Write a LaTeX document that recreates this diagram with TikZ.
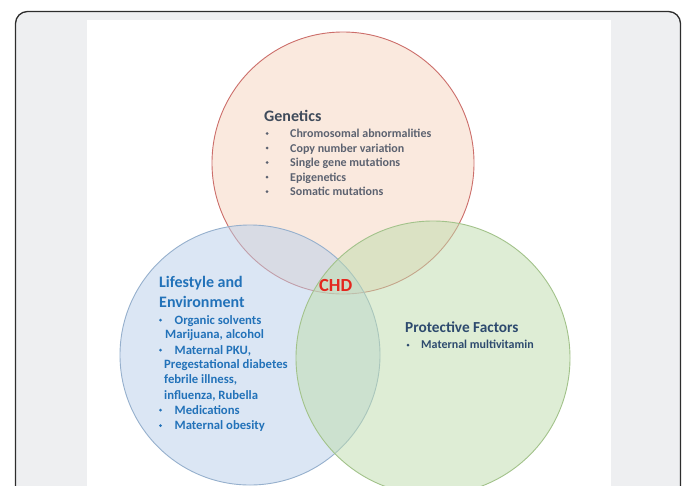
\documentclass[tikz,border=0pt]{standalone}
\usepackage{fontspec}
\setmainfont{Carlito}
\usepackage{tikz}
\usetikzlibrary{positioning}
\definecolor{framegray}{RGB}{238, 239, 241}
\definecolor{frameline}{RGB}{45, 45, 45}
\definecolor{genfill}{RGB}{247, 213, 190}
\definecolor{genline}{RGB}{204, 110, 106}
\definecolor{lifefill}{RGB}{184, 207, 234}
\definecolor{lifeline}{RGB}{150, 176, 205}
\definecolor{protfill}{RGB}{190, 221, 172}
\definecolor{protline}{RGB}{162, 194, 138}
\definecolor{genhead}{RGB}{63, 75, 91}
\definecolor{gentext}{RGB}{92, 98, 112}
\definecolor{lifeblue}{RGB}{34, 114, 185}
\definecolor{prothead}{RGB}{45, 74, 110}
\definecolor{chdred}{RGB}{228, 38, 30}

\tikzset{
  heading/.style={font=\fontsize{16}{19}\selectfont\bfseries, anchor=base west, inner sep=0pt},
  item/.style={font=\fontsize{12}{14}\selectfont\bfseries, anchor=base west, inner sep=0pt},
  lifeitem/.style={item, font=\fontsize{12.7}{15}\selectfont\bfseries, text=lifeblue},
  bulletdot/.style={circle, inner sep=0pt, minimum size=3pt},
  venn/.style={fill opacity=0.5, line width=0.9pt}
}

\begin{document}
\begin{tikzpicture}[x=1pt, y=-1pt, line cap=round, line join=round]
	\useasboundingbox (0,0) rectangle (684,485);
	\clip (0,0) rectangle (684,485);

	% -- Frame and panel --
	\draw[fill=framegray, draw=frameline, line width=1.3pt, rounded corners=12pt] (15.5,11.5) rectangle (680.5,520);
	\fill[white] (87,20) rectangle (611,520);

	% -- The three circles --
	\draw[venn, fill=genfill, draw=genline] (343,163) circle (131);
	\draw[venn, fill=lifefill, draw=lifeline] (250,355) circle (130);
	\draw[venn, fill=protfill, draw=protline] (433,358) circle (137);

	% -- Genetics --
	\node[heading, text=genhead] (gen) at (264,121.5) {Genetics};
	\node[bulletdot, fill=gentext] (genb1) at (267,133.5) {};
	\node[item, text=gentext] (gen1) at (290,137.5) {Chromosomal abnormalities};
	\node[bulletdot, fill=gentext] (genb2) at (267,148) {};
	\node[item, text=gentext] (gen2) at (290,152) {Copy number variation};
	\node[bulletdot, fill=gentext] (genb3) at (267,162.5) {};
	\node[item, text=gentext] (gen3) at (290,166.5) {Single gene mutations};
	\node[bulletdot, fill=gentext] (genb4) at (267,177) {};
	\node[item, text=gentext] (gen4) at (290,181) {Epigenetics};
	\node[bulletdot, fill=gentext] (genb5) at (267,191.5) {};
	\node[item, text=gentext] (gen5) at (290,195.5) {Somatic mutations};

	% -- Lifestyle and Environment --
	\node[heading, text=lifeblue] (life) at (159,287.5) {Lifestyle and};
	\node[heading, text=lifeblue] (env) at (159,307.5) {Environment};
	\node[bulletdot, fill=lifeblue] (lifeb1) at (160.5,320) {};
	\node[lifeitem] (life1) at (174.5,324) {Organic solvents};
	\node[lifeitem] (life1b) at (165,338.5) {Marijuana, alcohol};
	\node[bulletdot, fill=lifeblue] (lifeb2) at (160.5,350) {};
	\node[lifeitem] (life2) at (174.5,354) {Maternal PKU,};
	\node[lifeitem] (life2b) at (164,368.5) {Pregestational diabetes};
	\node[lifeitem] (life2c) at (164,383.5) {febrile illness,};
	\node[lifeitem] (life2d) at (164,399) {influenza, Rubella};
	\node[bulletdot, fill=lifeblue] (lifeb3) at (160.5,410) {};
	\node[lifeitem] (life3) at (174.5,414) {Medications};
	\node[bulletdot, fill=lifeblue] (lifeb4) at (160.5,425.5) {};
	\node[lifeitem] (life4) at (174.5,429.5) {Maternal obesity};

	% -- CHD (the overlap) --
	\node[heading, font=\fontsize{18.5}{21}\selectfont\bfseries, text=chdred] (chd) at (319,291.5) {CHD};

	% -- Protective Factors --
	\node[heading, font=\fontsize{15.3}{18}\selectfont\bfseries, text=prothead] (prot) at (405,332.5) {Protective Factors};
	\node[bulletdot, fill=prothead] (protb1) at (408,345) {};
	\node[item, text=prothead] (prot1) at (421,348.5) {Maternal multivitamin};
\end{tikzpicture}
\end{document}
